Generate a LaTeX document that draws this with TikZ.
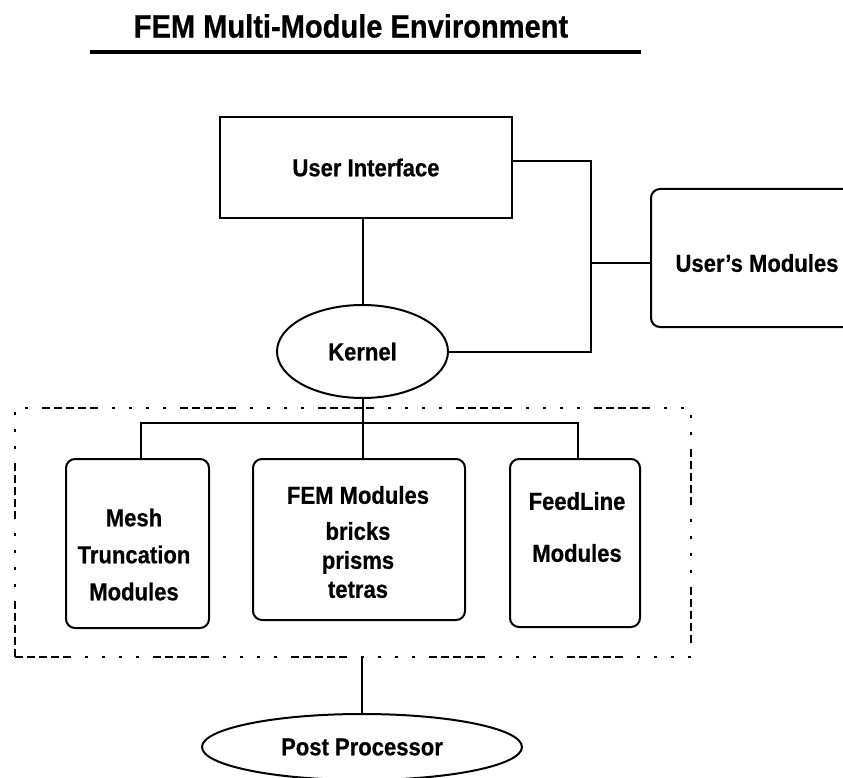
\documentclass[tikz,border=0pt]{standalone}
\usepackage{fontspec}
\setmainfont{Liberation Sans}[FakeStretch=0.9,BoldFeatures={FakeBold=0.6}]
\usetikzlibrary{shapes.geometric}

\begin{document}
\begin{tikzpicture}[x=1pt,y=-1pt,
    lbl/.style={font=\fontsize{24.5}{29}\selectfont\bfseries,inner sep=0pt,align=center},
    wire/.style={line width=2pt},
    sqbox/.style={draw,line width=2pt,inner sep=0pt},
    modbox/.style={draw,line width=2pt,rounded corners=9pt,inner sep=0pt},
    oval/.style={draw,ellipse,line width=2pt,inner sep=0pt}]
  \useasboundingbox (0,0) rectangle (843,778);
  \clip (0,0) rectangle (843,778);
  % title
  \node[font=\fontsize{32.3}{38}\selectfont\bfseries,inner sep=0pt] (title) at (351,26) {FEM Multi-Module Environment};
  \draw[line width=3.2pt] (90,52) -- (641,52);
  % upper part
  \node[sqbox,lbl,minimum width=292,minimum height=101] (ui) at (366,167.5) {User Interface};
  \node[oval,lbl,minimum width=171,minimum height=93] (kernel) at (362.5,351.5) {Kernel};
  \node[modbox,minimum width=240,minimum height=138] (users) at (771,258) {};
  \node[lbl] (userstxt) at (757,263) {User's Modules};
  \coordinate (jn) at (591,263);
  \draw[wire] (kernel.north) -- (kernel.north |- ui.south);
  \draw[wire] ([yshift=6.5pt]ui.east) -| (jn) |- (kernel.east);
  \draw[wire] (jn) -- (jn -| users.west);
  % module frame
  \node[draw,line width=2.8pt,line cap=butt,minimum width=676,minimum height=249,inner sep=0pt,
    dash pattern=on 8pt off 4pt on 8pt off 4pt on 8pt off 4pt on 8pt off 4pt on 8pt off 14pt
    on 3pt off 14pt on 3pt off 14pt on 3pt off 14pt on 3pt off 14pt] (frame) at (353,532.5) {};
  \node[modbox,minimum width=143,minimum height=169] (mesh) at (137.5,543.5) {};
  \node[modbox,minimum width=212,minimum height=161] (fem) at (359,539.5) {};
  \node[modbox,minimum width=130,minimum height=168] (feed) at (575,543) {};
  \node[lbl,font=\fontsize{24.5}{37}\selectfont\bfseries] (meshtxt) at (134,554.5) {Mesh\\Truncation\\Modules};
  \node[lbl] (femtxt) at (358,542) {FEM Modules\\[7pt]bricks\\prisms\\tetras};
  \node[lbl,font=\fontsize{24.5}{52}\selectfont\bfseries] (feedtxt) at (577,527) {FeedLine\\Modules};
  \coordinate (bus) at (363,423);
  \draw[wire] (kernel.south) -- (kernel.south |- fem.north);
  \draw[wire] (mesh.north -| 141,0) -- (bus -| 141,0) -- (bus -| 578,0) -- (feed.north -| 578,0);
  % post processor
  \node[oval,lbl,minimum width=320,minimum height=66] (post) at (362,747) {Post Processor};
  \draw[wire] (frame.south -| post.north) -- (post.north);
\end{tikzpicture}
\end{document}
